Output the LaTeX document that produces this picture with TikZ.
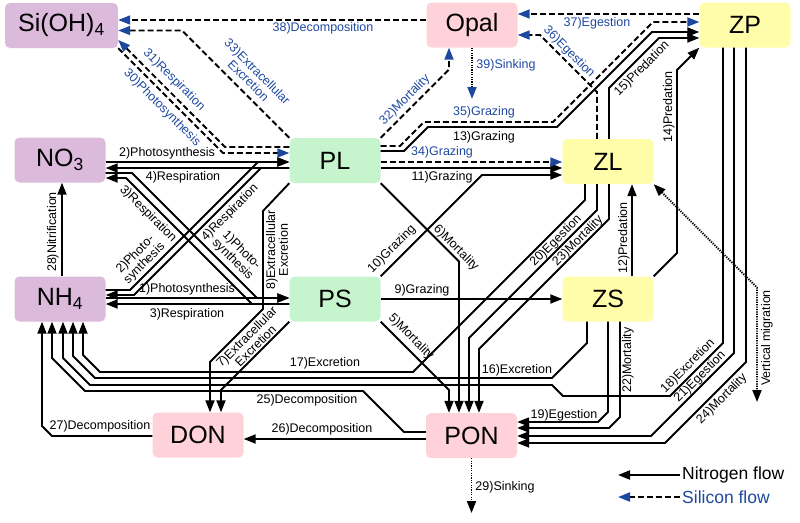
\documentclass[tikz,border=0pt]{standalone}
\usepackage{fontspec}
\setmainfont{Liberation Sans}
\usetikzlibrary{arrows.meta}
\definecolor{nutbox}{RGB}{220,186,220}
\definecolor{detbox}{RGB}{255,210,218}
\definecolor{phybox}{RGB}{198,245,205}
\definecolor{zoobox}{RGB}{255,253,170}
\definecolor{siblue}{RGB}{30,72,160}
\begin{document}
\begin{tikzpicture}[x=1pt,y=-1pt,
  pool/.style={rounded corners=5pt,minimum width=91pt,minimum height=45pt,inner sep=0pt,font=\fontsize{25}{25}\selectfont},
  nflow/.style={line width=1.9pt,-{Triangle[length=12pt,width=9pt]}},
  sflow/.style={line width=1.9pt,dash pattern=on 6pt off 3pt,-{Triangle[length=12pt,width=9pt,color=siblue]}},
  dflow/.style={line width=1.9pt,dash pattern=on 1.2pt off 1.2pt},
  lbl/.style={font=\fontsize{12.5}{11}\selectfont,inner sep=1pt,align=center},
  slbl/.style={lbl,text=siblue}]
\useasboundingbox (0,0) rectangle (800,522);

% pools
\node[pool,fill=nutbox,minimum width=113pt] (si) at (61.5,25.5) {Si(OH)\textsubscript{4}};
\node[pool,fill=detbox] (opal) at (472,25) {Opal};
\node[pool,fill=zoobox] (zp) at (745,25) {ZP};
\node[pool,fill=nutbox] (no3) at (60,160) {NO\textsubscript{3}};
\node[pool,fill=phybox] (pl) at (335,160.5) {PL};
\node[pool,fill=zoobox] (zl) at (608,161.5) {ZL};
\node[pool,fill=nutbox] (nh4) at (60,299) {NH\textsubscript{4}};
\node[pool,fill=phybox] (ps) at (335,299) {PS};
\node[pool,fill=zoobox] (zs) at (608,299) {ZS};
\node[pool,fill=detbox] (don) at (198,435) {DON};
\node[pool,fill=detbox] (pon) at (471.5,435.5) {PON};

% nitrogen: uptake and respiration
\draw[nflow] (no3.east |- 0,162) -- (pl.west |- 0,162);
\draw[nflow] (pl.west |- 0,168) -- (no3.east |- 0,168);
\draw[nflow] (nh4.east |- 0,298) -- (ps.west |- 0,298);
\draw[nflow] (ps.west |- 0,304) -- (nh4.east |- 0,304);
\draw[nflow] (nh4.east |- 0,290) -- (130,290) -- (258,162) -- (pl.west |- 0,162);
\draw[nflow] (pl.west |- 0,168) -- (261,168) -- (134,295) -- (nh4.east |- 0,295);
\draw[nflow] (no3.east |- 0,173) -- (132,173) -- (257,298) -- (ps.west |- 0,298);
\draw[nflow] (ps.west |- 0,304) -- (252,304) -- (126,178) -- (no3.east |- 0,178);
\draw[nflow] (nh4.north -| 62,0) -- (no3.south -| 62,0);

% nitrogen: phytoplankton losses
\draw[nflow] (pl.south west) -- (263,211) -- (263,309) -- (210,362) -- (don.north -| 210,0);
\draw[nflow] (ps.south west) -- (221,390) -- (don.north -| 221,0);
\draw[nflow] (pl.south east) -- (459,261.5) -- (pon.north -| 459,0);
\draw[nflow] (ps.south east) -- (449,390) -- (pon.north -| 449,0);

% nitrogen: grazing and predation
\draw[nflow] (ps.east |- 0,299) -- (zs.west |- 0,299);
\draw[nflow] (ps.north east) -- (482,175) -- (zl.west |- 0,175);
\draw[nflow] (pl.east |- 0,168) -- (zl.west |- 0,168);
\draw[nflow] (pl.east |- 0,151) -- (404,151) -- (428,127) -- (557,127) -- (652,32) -- (zp.west |- 0,32);
\draw[nflow] (zl.north -| 609,0) -- (609,88) -- (659,38) -- (zp.west |- 0,38);
\draw[nflow] (zs.north east) -- (677,253) -- (677,70) -- (zp.south west);
\draw[nflow] (zs.north -| 632,0) -- (zl.south -| 632,0);

% nitrogen: zooplankton losses
\draw[nflow] (zl.south -| 585,0) -- (585,200) -- (413,372) -- (100,372) -- (83,355) -- (nh4.south -| 83,0);
\draw[nflow] (zl.south -| 597,0) -- (597,210) -- (469,338) -- (pon.north -| 469,0);
\draw[nflow] (zl.south -| 609,0) -- (609,219) -- (479,349) -- (pon.north -| 479,0);
\draw[nflow] (zs.south -| 587,0) -- (587,343) -- (552,378) -- (95,378) -- (73,356) -- (nh4.south -| 73,0);
\draw[nflow] (zs.south -| 608,0) -- (608,412) -- (598,422) -- (pon.east |- 0,422);
\draw[nflow] (zs.south -| 620,0) -- (620,417) -- (609,428) -- (pon.east |- 0,428);
\draw[nflow] (zp.south -| 723,0) -- (723,343) -- (670,396) -- (563,396) -- (552,385) -- (90,385) -- (63,358) -- (nh4.south -| 63,0);
\draw[nflow] (zp.south -| 734,0) -- (734,353) -- (651,436) -- (pon.east |- 0,436);
\draw[nflow] (zp.south -| 746,0) -- (746,362) -- (665,443) -- (pon.east |- 0,443);

% nitrogen: detritus
\draw[nflow] (pon.west |- 0,432) -- (404,432) -- (363,391) -- (85,391) -- (52,358) -- (nh4.south -| 52,0);
\draw[nflow] (pon.west |- 0,439) -- (don.east |- 0,439);
\draw[nflow] (don.west |- 0,436) -- (52,436) -- (42,426) -- (nh4.south -| 42,0);
\coordinate (ponsink) at (471.5,513);
\draw[dflow,-{Triangle[length=12pt,width=9pt]}] (pon.south) -- (ponsink);
\coordinate (vmend) at (757,402);
\draw[dflow,{Triangle[length=12pt,width=9pt]}-{Triangle[length=12pt,width=9pt]}] (zl.south east) -- (757,287.5) -- (vmend);

% silicon
\draw[sflow] (si.south east) -- (223,153) -- (pl.west |- 0,153);
\draw[sflow] (pl.west |- 0,147) -- (225,147) -- (si.east |- 0,40);
\draw[sflow] (pl.north west) -- (182,30.5) -- (si.east |- 0,30.5);
\draw[sflow] (pl.north east) -- (449,69.5) -- (opal.south -| 449,0);
\draw[sflow] (pl.east |- 0,162) -- (zl.west |- 0,162);
\draw[sflow] (pl.east |- 0,146) -- (400,146) -- (424,122) -- (553,122) -- (653,22) -- (zp.west |- 0,22);
\draw[sflow] (zl.north -| 597,0) -- (597,92) -- (540,35) -- (opal.east |- 0,35);
\draw[sflow] (zp.west |- 0,14) -- (opal.east |- 0,14);
\draw[sflow] (opal.west |- 0,20) -- (si.east |- 0,20);
\coordinate (opalsink) at (472,99);
\draw[dflow,-{Triangle[length=12pt,width=9pt,color=siblue]}] (opal.south -| 472,0) -- (opalsink);

% labels
\node[lbl] (l1) at (187,289) {1)Photosynthesis};
\node[lbl,rotate=-45] (l1b) at (237,255) {1)Photo-\\synthesis};
\node[lbl] (l2) at (167,153) {2)Photosynthesis};
\node[lbl,rotate=45] (l2b) at (140,259) {2)Photo-\\synthesis};
\node[lbl] (l3) at (187,314) {3)Respiration};
\node[lbl,rotate=-45] (l3b) at (148,214) {3)Respiration};
\node[lbl] (l4) at (183,177) {4)Respiration};
\node[lbl,rotate=45] (l4b) at (230,213) {4)Respiration};
\node[lbl,rotate=-45] (l5) at (411,337) {5)Mortality};
\node[lbl,rotate=-45] (l6) at (456,248) {6)Mortality};
\node[lbl,rotate=45] (l7) at (251,341) {7)Extracellular\\Excretion};
\node[lbl,rotate=90] (l8) at (277,250) {8)Extracellular\\Excretion};
\node[lbl] (l9) at (422,290) {9)Grazing};
\node[lbl,rotate=45] (l10) at (392,249) {10)Grazing};
\node[lbl] (l11) at (442,177) {11)Grazing};
\node[lbl,rotate=90] (l12) at (624,238) {12)Predation};
\node[lbl] (l13) at (484,137) {13)Grazing};
\node[lbl,rotate=90] (l14) at (669,107) {14)Predation};
\node[lbl,rotate=45] (l15) at (642,69) {15)Predation};
\node[lbl] (l16) at (517,370) {16)Excretion};
\node[lbl] (l17) at (325,363) {17)Excretion};
\node[lbl,rotate=45] (l18) at (688,366) {18)Excretion};
\node[lbl] (l19) at (564,415) {19)Egestion};
\node[lbl,rotate=45] (l20) at (556,241) {20)Egestion};
\node[lbl,rotate=45] (l21) at (700,377) {21)Egestion};
\node[lbl,rotate=90] (l22) at (628,360) {22)Mortality};
\node[lbl,rotate=45] (l23) at (578,241) {23)Mortality};
\node[lbl,rotate=45] (l24) at (722,399) {24)Mortality};
\node[lbl] (l25) at (307,400) {25)Decomposition};
\node[lbl] (l26) at (322,429) {26)Decomposition};
\node[lbl] (l27) at (100,426) {27)Decomposition};
\node[lbl,rotate=90] (l28) at (53,232) {28)Nitrification};
\node[lbl] (l29) at (505,487) {29)Sinking};
\node[slbl,rotate=-45] (l30) at (162,108) {30)Photosynthesis};
\node[slbl,rotate=-45] (l31) at (174,80) {31)Respiration};
\node[slbl,rotate=45] (l32) at (405,100) {32)Mortality};
\node[slbl,rotate=-45] (l33) at (253,76) {33)Extracellular\\Excretion};
\node[slbl] (l34) at (442,152) {34)Grazing};
\node[slbl] (l35) at (484,112) {35)Grazing};
\node[slbl,rotate=-45] (l36) at (569,52) {36)Egestion};
\node[slbl] (l37) at (597,23) {37)Egestion};
\node[slbl] (l38) at (323,28) {38)Decomposition};
\node[slbl] (l39) at (506,65) {39)Sinking};
\node[lbl,rotate=90] (lvm) at (767,338) {Vertical migration};

% legend
\node[anchor=west,inner sep=2pt,font=\fontsize{17.5}{17.5}\selectfont] (nleg) at (680,475) {Nitrogen flow};
\coordinate (nlegtip) at (618,475);
\draw[nflow] (nleg.west) -- (nlegtip);
\node[anchor=west,inner sep=2pt,text=siblue,font=\fontsize{17.5}{17.5}\selectfont] (sleg) at (680,497) {Silicon flow};
\coordinate (slegtip) at (618,497);
\draw[sflow] (sleg.west) -- (slegtip);
\end{tikzpicture}
\end{document}
